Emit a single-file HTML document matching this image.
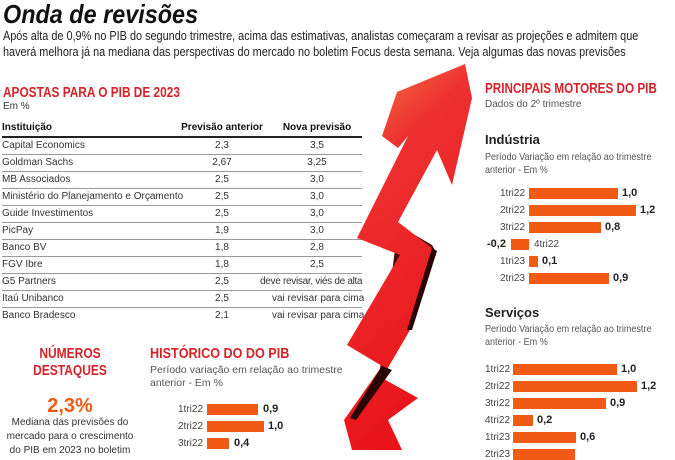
<!DOCTYPE html>
<html><head><meta charset="utf-8"><style>
*{margin:0;padding:0}
body{width:675px;height:450px;overflow:hidden;background:#fff;position:relative;font-family:"Liberation Sans",sans-serif;color:#333}
.a{position:absolute;white-space:nowrap;transform-origin:0 0}
h1{position:absolute;left:3px;top:-1px;font:italic bold 26px "Liberation Sans",sans-serif;color:#111;transform:scaleX(.9);transform-origin:0 0}
.sub{font-size:12.5px;color:#222;transform:scaleX(.87)}
.red{color:#d6222a;font-weight:bold}
.t{position:absolute;left:2px;width:360px;font-size:10px}
.row{position:absolute;left:0;width:360px;height:16px;border-bottom:1px solid #999;line-height:16px;white-space:nowrap}
.row span{position:absolute}
.c1{left:0}.c2{left:180px;width:80px;text-align:center}.c3{left:270px;width:90px;text-align:center}
.bar{position:absolute;height:11px;background:#f05a14}
.lb{position:absolute;font-size:10px;color:#444;line-height:11px}
.v{position:absolute;font-size:11px;font-weight:bold;color:#222;line-height:11px}
</style></head><body>
<h1>Onda de revisões</h1>
<div class="a sub" style="left:3px;top:29px">Após alta de 0,9% no PIB do segundo trimestre, acima das estimativas, analistas começaram a revisar as projeções e admitem que</div>
<div class="a sub" style="left:3px;top:45px">haverá melhora já na mediana das perspectivas do mercado no boletim Focus desta semana. Veja algumas das novas previsões</div>

<div class="a red" style="left:3px;top:84px;font-size:15px;transform:scaleX(.79)">APOSTAS PARA O PIB DE 2023</div>
<div class="a" style="left:3px;top:101px;font-size:10px">Em %</div>
<div class="t" style="top:120px">
<div class="row" style="top:0;border-bottom:2px solid #222;font-weight:bold;color:#111"><span class="c1">Instituição</span><span class="c2" style="left:175px;width:90px">Previsão anterior</span><span class="c3">Nova previsão</span></div>
<div class="row" style="top:18px"><span class="c1">Capital Economics</span><span class="c2">2,3</span><span class="c3">3,5</span></div>
<div class="row" style="top:35px"><span class="c1">Goldman Sachs</span><span class="c2">2,67</span><span class="c3">3,25</span></div>
<div class="row" style="top:52px"><span class="c1">MB Associados</span><span class="c2">2,5</span><span class="c3">3,0</span></div>
<div class="row" style="top:69px"><span class="c1">Ministério do Planejamento e Orçamento</span><span class="c2">2,5</span><span class="c3">3,0</span></div>
<div class="row" style="top:86px"><span class="c1">Guide Investimentos</span><span class="c2">2,5</span><span class="c3">3,0</span></div>
<div class="row" style="top:103px"><span class="c1">PicPay</span><span class="c2">1,9</span><span class="c3">3,0</span></div>
<div class="row" style="top:120px"><span class="c1">Banco BV</span><span class="c2">1,8</span><span class="c3">2,8</span></div>
<div class="row" style="top:137px"><span class="c1">FGV Ibre</span><span class="c2">1,8</span><span class="c3">2,5</span></div>
<div class="row" style="top:154px"><span class="c1">G5 Partners</span><span class="c2">2,5</span><span class="c3" style="left:258px;width:102px;letter-spacing:-.3px">deve revisar, viés de alta</span></div>
<div class="row" style="top:171px"><span class="c1">Itaú Unibanco</span><span class="c2">2,5</span><span class="c3">vai revisar para cima</span></div>
<div class="row" style="top:188px;border-bottom:none"><span class="c1">Banco Bradesco</span><span class="c2">2,1</span><span class="c3">vai revisar para cima</span></div>
</div>

<div class="a red" style="left:0;width:140px;text-align:center;top:345px;font-size:15px;line-height:17px;transform:scaleX(.8);transform-origin:70px 0">NÚMEROS<br>DESTAQUES</div>
<div class="a" style="left:0;width:140px;text-align:center;top:395px;font-size:20px;font-weight:bold;color:#f05a14">2,3%</div>
<div class="a" style="left:0;width:140px;text-align:center;top:416px;font-size:10px;line-height:14px">Mediana das previsões do<br>mercado para o crescimento<br>do PIB em 2023 no boletim</div>

<div class="a red" style="left:150px;top:345px;font-size:15px;transform:scaleX(.84)">HISTÓRICO DO DO PIB</div>
<div class="a" style="left:150px;top:364px;font-size:10.5px;line-height:13px;color:#555">Período variação em relação ao trimestre<br>anterior - Em %</div>
<div class="lb" style="left:178px;top:404px">1tri22</div><div class="bar" style="left:207px;top:404px;width:51px"></div><div class="v" style="left:263px;top:404px">0,9</div>
<div class="lb" style="left:178px;top:421px">2tri22</div><div class="bar" style="left:207px;top:421px;width:57px"></div><div class="v" style="left:268px;top:421px">1,0</div>
<div class="lb" style="left:178px;top:438px">3tri22</div><div class="bar" style="left:207px;top:438px;width:22px"></div><div class="v" style="left:234px;top:438px">0,4</div>

<svg class="a" style="left:0;top:0" width="675" height="450">
<defs><linearGradient id="g" x1="0" y1="0" x2="0.3" y2="1"><stop offset="0" stop-color="#f2874a"/><stop offset="0.3" stop-color="#ee3030"/><stop offset="1" stop-color="#e8141a"/></linearGradient></defs>
<polygon fill="#4a0a0a" points="398,225 432,245 436,252 405,235 380,380 388,384 392,392 378,385"/>
<polygon fill="url(#g)" points="465,64 397,92 382,136 398,148 408,136 357,238 400,255 347,345 382,366 344,420 352,450 402,450 388,420 418,398 382,378 410,330 432,248 398,222 437,150 452,185 472,98"/>
<polygon fill="#2a0505" points="432,248 437,251 412,330 407,330"/>
<polygon fill="#2a0505" points="382,366 392,370 356,420 350,418"/>
</svg>

<div class="a red" style="left:485px;top:80px;font-size:15px;transform:scaleX(.78)">PRINCIPAIS MOTORES DO PIB</div>
<div class="a" style="left:485px;top:99px;font-size:10px;color:#555">Dados do 2º trimestre</div>
<div class="a" style="left:485px;top:132px;font-size:13px;font-weight:bold;color:#222">Indústria</div>
<div class="a" style="left:485px;top:151px;font-size:10.5px;line-height:13px;color:#555;transform:scaleX(.86)">Período Variação em relação ao trimestre<br>anterior - Em %</div>
<div class="lb" style="left:490px;width:35px;text-align:right;top:188px">1tri22</div><div class="bar" style="left:529px;top:188px;width:89px"></div><div class="v" style="left:622px;top:188px">1,0</div>
<div class="lb" style="left:490px;width:35px;text-align:right;top:205px">2tri22</div><div class="bar" style="left:529px;top:205px;width:107px"></div><div class="v" style="left:640px;top:205px">1,2</div>
<div class="lb" style="left:490px;width:35px;text-align:right;top:222px">3tri22</div><div class="bar" style="left:529px;top:222px;width:72px"></div><div class="v" style="left:605px;top:222px">0,8</div>
<div class="v" style="left:487px;top:239px">-0,2</div><div class="bar" style="left:511px;top:239px;width:18px"></div><div class="lb" style="left:534px;top:239px">4tri22</div>
<div class="lb" style="left:490px;width:35px;text-align:right;top:256px">1tri23</div><div class="bar" style="left:529px;top:256px;width:9px"></div><div class="v" style="left:542px;top:256px">0,1</div>
<div class="lb" style="left:490px;width:35px;text-align:right;top:273px">2tri23</div><div class="bar" style="left:529px;top:273px;width:80px"></div><div class="v" style="left:613px;top:273px">0,9</div>

<div class="a" style="left:485px;top:305px;font-size:13px;font-weight:bold;color:#222">Serviços</div>
<div class="a" style="left:485px;top:323px;font-size:10.5px;line-height:13px;color:#555;transform:scaleX(.86)">Período Variação em relação ao trimestre<br>anterior - Em %</div>
<div class="lb" style="left:485px;top:364px">1tri22</div><div class="bar" style="left:513px;top:364px;width:104px"></div><div class="v" style="left:621px;top:364px">1,0</div>
<div class="lb" style="left:485px;top:381px">2tri22</div><div class="bar" style="left:513px;top:381px;width:124px"></div><div class="v" style="left:641px;top:381px">1,2</div>
<div class="lb" style="left:485px;top:398px">3tri22</div><div class="bar" style="left:513px;top:398px;width:93px"></div><div class="v" style="left:610px;top:398px">0,9</div>
<div class="lb" style="left:485px;top:415px">4tri22</div><div class="bar" style="left:513px;top:415px;width:20px"></div><div class="v" style="left:537px;top:415px">0,2</div>
<div class="lb" style="left:485px;top:432px">1tri23</div><div class="bar" style="left:513px;top:432px;width:63px"></div><div class="v" style="left:580px;top:432px">0,6</div>
<div class="lb" style="left:485px;top:449px">2tri23</div><div class="bar" style="left:513px;top:449px;width:62px"></div>
</body></html>
